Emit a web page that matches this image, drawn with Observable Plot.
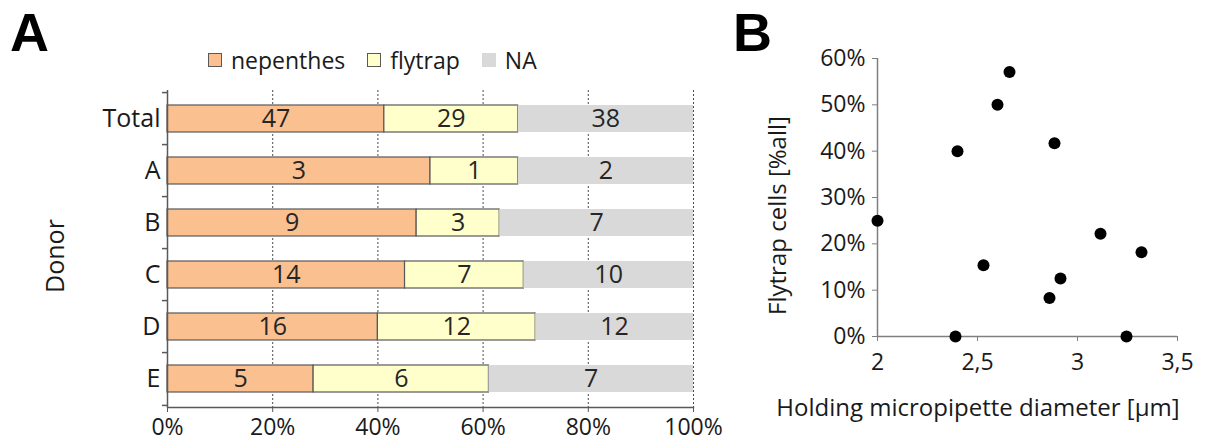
<!DOCTYPE html>
<html>
<head>
<meta charset="utf-8">
<script src="https://cdn.jsdelivr.net/npm/d3@7"></script>
<script src="https://cdn.jsdelivr.net/npm/@observablehq/plot@0.6"></script>
<style>
  html, body { margin: 0; padding: 0; background: #fff; }
  #root { position: relative; width: 1208px; height: 443px; overflow: hidden; font-family: "Open Sans", sans-serif; color: #1a1a1a; }
  .panel-letter { position: absolute; font-family: "Liberation Sans", Arial, sans-serif; font-weight: 700; font-size: 54px; line-height: 1; color: #000; z-index: 2; }
  #legend { position: absolute; left: 208px; top: 44px; display: flex; align-items: center; font-size: 23px; color: #1a1a1a; }
  #legend .item { display: flex; align-items: center; margin-right: 22px; }
  #legend .sw { width: 14px; height: 14px; margin-right: 9px; box-sizing: border-box; }
  #caption { position: absolute; left: 739px; top: 386px; width: 478px; text-align: center; font-size: 24px; line-height: 42px; color: #1a1a1a; }
  .abs { position: absolute; }
</style>
</head>
<body>
<div id="root">
  <div id="legend"></div>
  <div id="plotA" class="abs" style="left:0; top:80px;"></div>
  <div id="plotB" class="abs" style="left:730px; top:28px;"></div>
  <div id="caption">Holding micropipette diameter [µm]</div>
  <div class="panel-letter" style="left:10px; top:5px;">A</div>
  <div class="panel-letter" style="left:733px; top:5px;">B</div>
</div>
<script>
// ---------- Panel A data ----------
const donors = ["Total", "A", "B", "C", "D", "E"];
const types = ["nepenthes", "flytrap", "NA"];
const nepenthesCounts = [47, 3, 9, 14, 16, 5];
const flytrapCounts = [29, 1, 3, 7, 12, 6];
const naCounts = [38, 2, 7, 10, 12, 7];
const shareTicks = [0, 0.2, 0.4, 0.6, 0.8, 1];
const donorAxisLabel = "Donor";

// ---------- Panel B data ----------
const pipetteDiameter = [2.0, 2.39, 2.40, 2.53, 2.60, 2.66, 2.86, 2.885, 2.915, 3.115, 3.245, 3.32];
const flytrapShare = [0.25, 0, 0.40, 0.154, 0.50, 0.571, 0.083, 0.417, 0.125, 0.222, 0, 0.182];
const diameterTicks = [2, 2.5, 3, 3.5];
const shareTicksB = [0, 0.1, 0.2, 0.3, 0.4, 0.5, 0.6];
const flytrapAxisLabel = "Flytrap cells [%all]";

// ---------- styles ----------
const typeColors = ["#FAC090", "#FFFFCC", "#D9D9D9"];
const lineColor = "#595959";

// Legend (HTML, above SVG)
const legend = document.getElementById("legend");
types.forEach((t, i) => {
  const item = document.createElement("div");
  item.className = "item";
  const sw = document.createElement("div");
  sw.className = "sw";
  sw.style.background = typeColors[i];
  sw.style.border = t === "NA" ? "none" : `1px solid ${lineColor}`;
  const lab = document.createElement("span");
  lab.textContent = t;
  item.append(sw, lab);
  legend.append(item);
});

// Long table for the stacked bars
const counts = { nepenthes: nepenthesCounts, flytrap: flytrapCounts, NA: naCounts };
const tableA = donors.flatMap((d, i) => types.map(t => ({ donor: d, type: t, count: counts[t][i] })));

const wA = 730, hA = 363, mlA = 167, mrA = 37, mtA = 10, mbA = 36;
const step = (hA - mtA - mbA) / donors.length;
const pct = d3.format(".0%");

const plotA = Plot.plot({
  width: wA, height: hA,
  marginLeft: mlA, marginRight: mrA, marginTop: mtA, marginBottom: mbA,
  style: { fontFamily: "Open Sans, sans-serif", fontSize: "25px", color: "#1a1a1a", background: "transparent" },
  x: { domain: [0, 1] },
  y: { domain: donors, paddingInner: 0.48, paddingOuter: 0.24 },
  color: { domain: types, range: typeColors },
  opacity: { domain: [0, 1], range: [0, 1] },
  marks: [
    Plot.ruleX(shareTicks.slice(1), { stroke: "#4d4d4d", strokeDasharray: "2,2", strokeWidth: 1 }),
    Plot.barX(tableA, Plot.stackX({
      x: "count", y: "donor", fill: "type", order: types, offset: "normalize",
      stroke: lineColor, strokeWidth: 1.2, strokeOpacity: d => (d.type === "NA" ? 0 : 1)
    })),
    Plot.text(tableA, Plot.stackX({
      x: "count", y: "donor", z: "type", order: types, offset: "normalize",
      text: "count", fontSize: 25, fill: "#262626"
    })),
    Plot.ruleX([0], { stroke: lineColor, strokeWidth: 1.5 }),
    Plot.frame({ anchor: "bottom", stroke: lineColor, strokeWidth: 1.5 }),
    Plot.ruleY(donors, { y: d => d, x1: 0, x2: 0, insetLeft: -5, dy: -step / 2, stroke: lineColor, strokeWidth: 1.5 }),
    Plot.ruleY(donors.slice(-1), { y: d => d, x1: 0, x2: 0, insetLeft: -5, dy: step / 2, stroke: lineColor, strokeWidth: 1.5 }),
    Plot.axisX({ ticks: shareTicks, tickFormat: pct, tickSize: 5, tickPadding: 6, label: null, fontSize: 23, stroke: lineColor }),
    Plot.axisY({ tickSize: 0, tickPadding: 7, label: null, fontSize: 25 }),
    Plot.text([donorAxisLabel], { text: d => d, frameAnchor: "left", textAnchor: "middle", rotate: -90, dx: -112, dy: 7, fontSize: 25, fill: "#1a1a1a" })
  ]
});
document.getElementById("plotA").append(plotA);

// ---------- Panel B ----------
const tableB = pipetteDiameter.map((x, i) => ({ diameter: x, share: flytrapShare[i] }));
const plotB = Plot.plot({
  width: 478, height: 357,
  marginLeft: 147, marginRight: 31, marginTop: 30, marginBottom: 49,
  style: { fontFamily: "Open Sans, sans-serif", fontSize: "23px", color: "#1a1a1a", background: "transparent" },
  x: { domain: [2, 3.5] },
  y: { domain: [0, 0.6] },
  marks: [
    Plot.ruleX([2], { stroke: "#7f7f7f", strokeWidth: 1.5 }),
    Plot.ruleY([0], { stroke: "#7f7f7f", strokeWidth: 1.5 }),
    Plot.axisY({ ticks: shareTicksB, tickFormat: pct, tickSize: 5, tickPadding: 7, label: null, fontSize: 23, stroke: "#7f7f7f" }),
    Plot.axisX({ ticks: diameterTicks, tickFormat: d => String(d).replace(".", ","), tickSize: 5, tickPadding: 12, label: null, fontSize: 23, stroke: "#7f7f7f" }),
    Plot.dot(tableB, { x: "diameter", y: "share", r: 6, fill: "#000", stroke: "none" }),
    Plot.text([flytrapAxisLabel], { text: d => d, frameAnchor: "left", textAnchor: "middle", rotate: -90, dx: -99, dy: 18, fontSize: 24, fill: "#1a1a1a" })
  ]
});
document.getElementById("plotB").append(plotB);
</script>
</body>
</html>
